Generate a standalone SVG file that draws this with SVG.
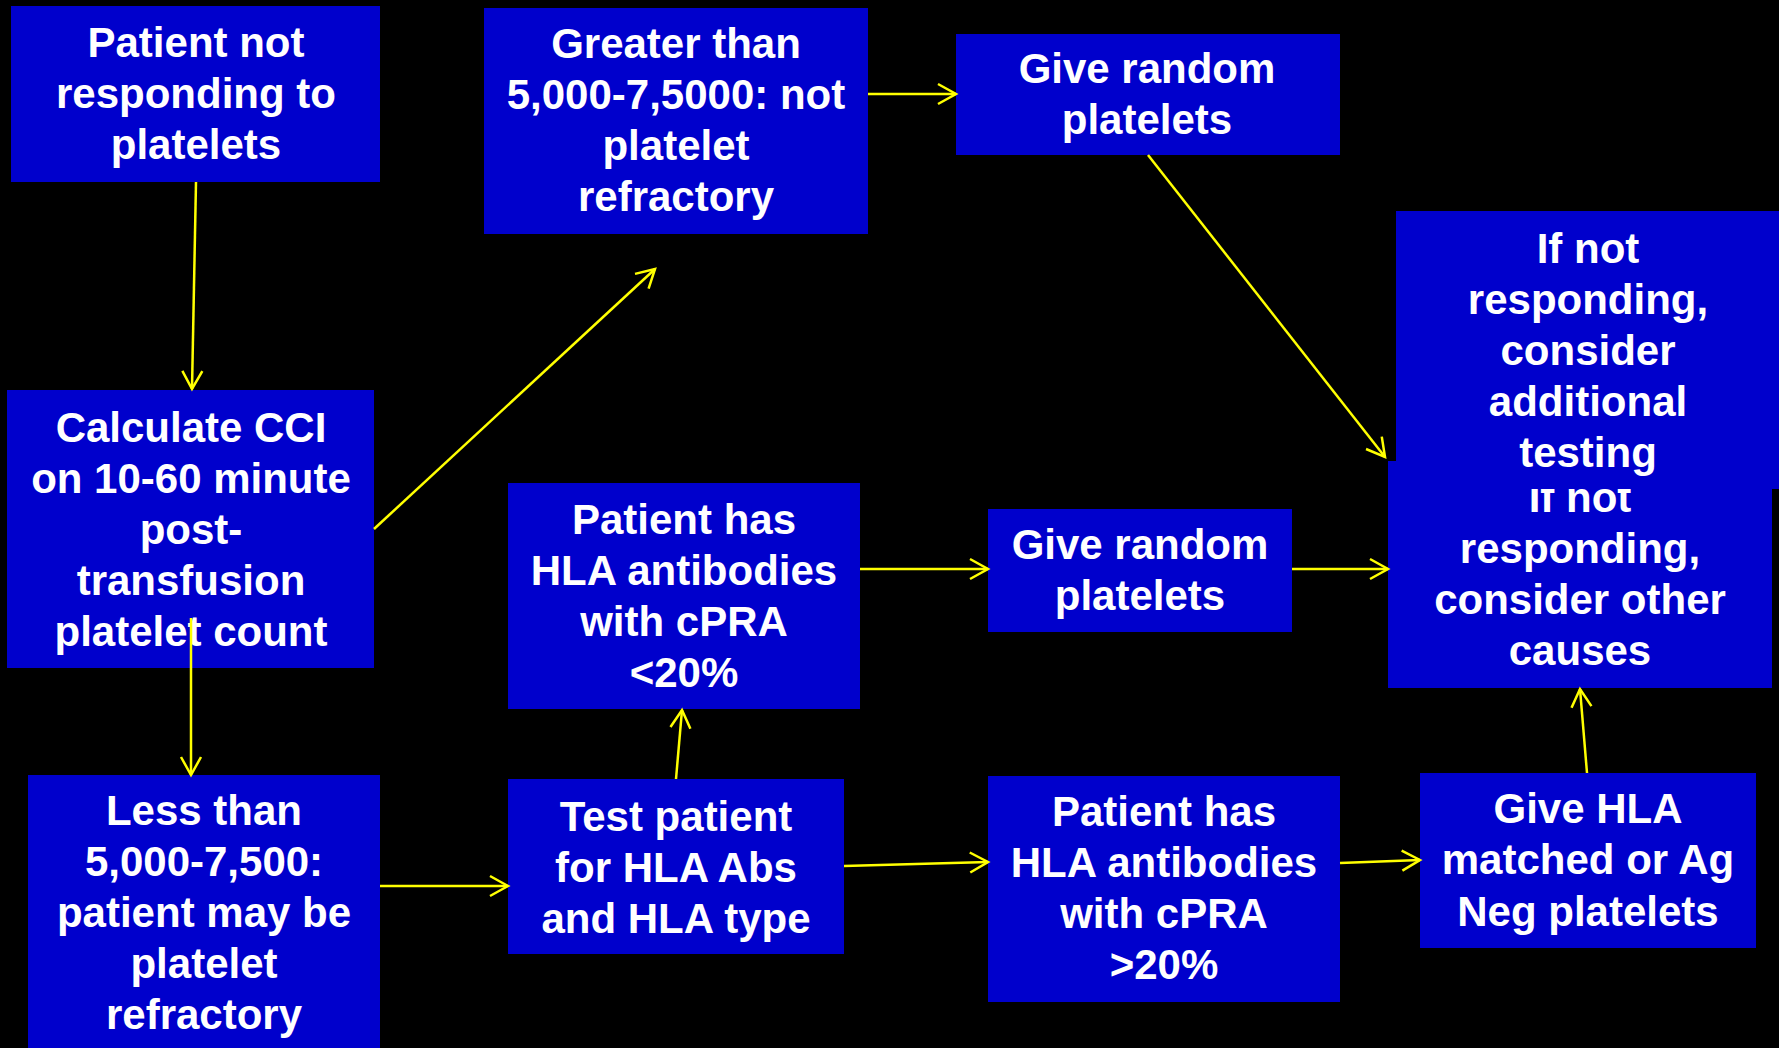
<svg xmlns="http://www.w3.org/2000/svg" width="1779" height="1048" viewBox="0 0 1779 1048">
<defs>
<style>
.box{fill:#0000CC}
.t{font-family:"Liberation Sans",Arial,sans-serif;font-weight:bold;font-size:42px;fill:#FFFFFF;text-anchor:middle}
.c{fill:none;stroke:#FFFF00;stroke-width:2.5}
</style>
<marker id="ah" markerUnits="userSpaceOnUse" markerWidth="30" markerHeight="30" refX="19" refY="11" orient="auto" overflow="visible">
<path d="M1,1 L19,11 L1,21" fill="none" stroke="#FFFF00" stroke-width="2.5"/>
</marker>
</defs>
<rect x="0" y="0" width="1779" height="1048" fill="#000000"/>

<g id="node-not-responding">
<rect class="box" x="11" y="6" width="369" height="176"/>
<text class="t" x="196" y="57">Patient not</text>
<text class="t" x="196" y="108">responding to</text>
<text class="t" x="196" y="159">platelets</text>
</g>

<g id="node-greater-than">
<rect class="box" x="484" y="8" width="384" height="226"/>
<text class="t" x="676" y="58">Greater than</text>
<text class="t" x="676" y="109">5,000-7,5000: not</text>
<text class="t" x="676" y="160">platelet</text>
<text class="t" x="676" y="211">refractory</text>
</g>

<g id="node-give-random-top">
<rect class="box" x="956" y="34" width="384" height="121"/>
<text class="t" x="1147" y="83">Give random</text>
<text class="t" x="1147" y="134">platelets</text>
</g>

<g id="node-calculate-cci">
<rect class="box" x="7" y="390" width="367" height="278"/>
<text class="t" x="191" y="442">Calculate CCI</text>
<text class="t" x="191" y="493">on 10-60 minute</text>
<text class="t" x="191" y="544">post-</text>
<text class="t" x="191" y="595">transfusion</text>
<text class="t" x="191" y="646">platelet count</text>
</g>

<g id="node-hla-lt20">
<rect class="box" x="508" y="483" width="352" height="226"/>
<text class="t" x="684" y="534">Patient has</text>
<text class="t" x="684" y="585">HLA antibodies</text>
<text class="t" x="684" y="636">with cPRA</text>
<text class="t" x="684" y="687">&lt;20%</text>
</g>

<g id="node-give-random-mid">
<rect class="box" x="988" y="509" width="304" height="123"/>
<text class="t" x="1140" y="559">Give random</text>
<text class="t" x="1140" y="610">platelets</text>
</g>

<g id="node-other-causes">
<rect class="box" x="1388" y="461" width="384" height="227"/>
<text class="t" x="1580" y="512">If not</text>
<text class="t" x="1580" y="563">responding,</text>
<text class="t" x="1580" y="614">consider other</text>
<text class="t" x="1580" y="665">causes</text>
</g>

<g id="node-additional-testing">
<rect class="box" x="1396" y="211" width="383" height="278"/>
<text class="t" x="1588" y="263">If not</text>
<text class="t" x="1588" y="314">responding,</text>
<text class="t" x="1588" y="365">consider</text>
<text class="t" x="1588" y="416">additional</text>
<text class="t" x="1588" y="467">testing</text>
</g>

<g id="node-less-than">
<rect class="box" x="28" y="775" width="352" height="273"/>
<text class="t" x="204" y="825">Less than</text>
<text class="t" x="204" y="876">5,000-7,500:</text>
<text class="t" x="204" y="927">patient may be</text>
<text class="t" x="204" y="978">platelet</text>
<text class="t" x="204" y="1029">refractory</text>
</g>

<g id="node-test-patient">
<rect class="box" x="508" y="779" width="336" height="175"/>
<text class="t" x="676" y="831">Test patient</text>
<text class="t" x="676" y="882">for HLA Abs</text>
<text class="t" x="676" y="933">and HLA type</text>
</g>

<g id="node-hla-gt20">
<rect class="box" x="988" y="776" width="352" height="226"/>
<text class="t" x="1164" y="826">Patient has</text>
<text class="t" x="1164" y="877">HLA antibodies</text>
<text class="t" x="1164" y="928">with cPRA</text>
<text class="t" x="1164" y="979">&gt;20%</text>
</g>

<g id="node-give-hla">
<rect class="box" x="1420" y="773" width="336" height="175"/>
<text class="t" x="1588" y="823">Give HLA</text>
<text class="t" x="1588" y="874">matched or Ag</text>
<text class="t" x="1588" y="926">Neg platelets</text>
</g>

<g id="connectors">
<line class="c" x1="196" y1="182" x2="192" y2="389" marker-end="url(#ah)"/>
<line class="c" x1="374" y1="529" x2="655" y2="269" marker-end="url(#ah)"/>
<line class="c" x1="191" y1="618" x2="191" y2="775" marker-end="url(#ah)"/>
<line class="c" x1="868" y1="94" x2="956" y2="94" marker-end="url(#ah)"/>
<line class="c" x1="1148" y1="155" x2="1385" y2="457" marker-end="url(#ah)"/>
<line class="c" x1="860" y1="569" x2="988" y2="569" marker-end="url(#ah)"/>
<line class="c" x1="1292" y1="569" x2="1388" y2="569" marker-end="url(#ah)"/>
<line class="c" x1="380" y1="886" x2="508" y2="886" marker-end="url(#ah)"/>
<line class="c" x1="676" y1="779" x2="682" y2="710" marker-end="url(#ah)"/>
<line class="c" x1="844" y1="866" x2="988" y2="862" marker-end="url(#ah)"/>
<line class="c" x1="1340" y1="863" x2="1420" y2="860" marker-end="url(#ah)"/>
<line class="c" x1="1587" y1="773" x2="1580" y2="689" marker-end="url(#ah)"/>
</g>
</svg>
